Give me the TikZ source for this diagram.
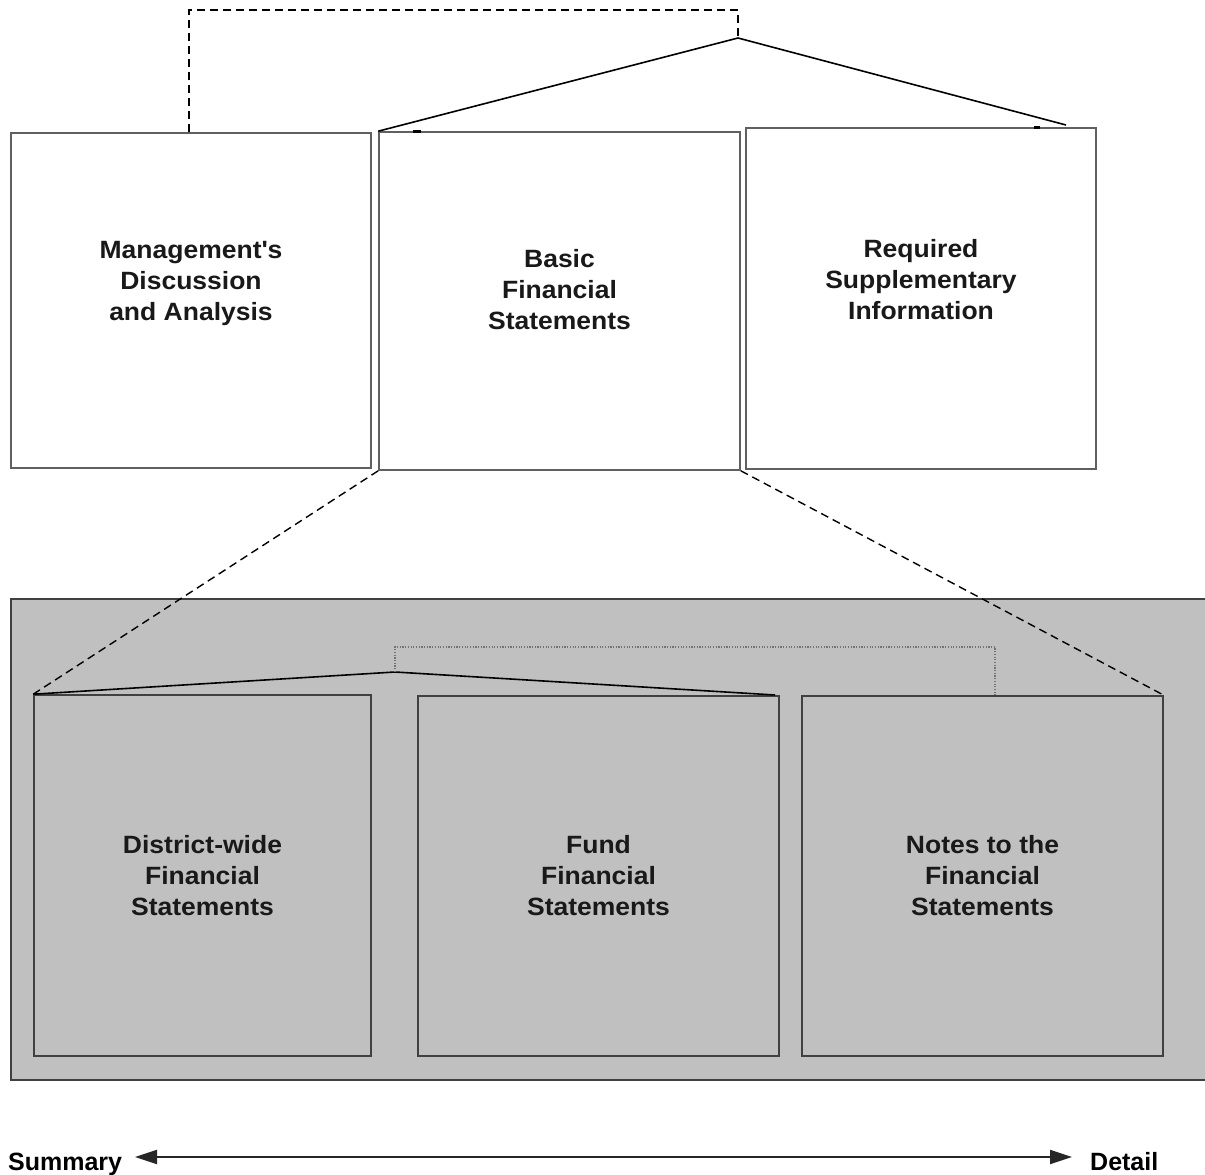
\documentclass[tikz,border=0pt]{standalone}
\usepackage{fontspec}
\setmainfont{Liberation Sans}
\newfontfamily\boxfont[FakeStretch=1.06]{Liberation Sans}
\usetikzlibrary{arrows.meta}
\definecolor{panelgray}{HTML}{C0C0C0}
\definecolor{topedge}{HTML}{606060}
\definecolor{lowedge}{HTML}{404040}
\tikzset{
  topbox/.style={draw=topedge, line width=1.6pt, fill=white, inner sep=0pt},
  lowbox/.style={draw=lowedge, line width=1.6pt, fill=panelgray, inner sep=0pt},
  boxtext/.style={align=center, font=\boxfont\bfseries\fontsize{25}{31}\selectfont, text=black!90},
  endtext/.style={font=\bfseries\fontsize{25}{30}\selectfont, inner sep=0pt},
  dashlink/.style={black, line width=1.4pt, dash pattern=on 8pt off 5pt},
  solidlink/.style={black, line width=1.6pt},
  dotlink/.style={black!55, line width=1.2pt, dash pattern=on 1.2pt off 1.5pt},
  tick/.style={black, line width=3pt}
}
\begin{document}
\begin{tikzpicture}[x=1pt,y=-1pt]
\useasboundingbox (0,0) rectangle (1205,1175);
% panel
\fill[panelgray] (11,599) rectangle (1206,1080);
\draw[lowedge, line width=1.6pt] (1206,599) -- (11,599) -- (11,1080) -- (1206,1080);
% top boxes
\node[topbox, minimum width=360pt, minimum height=335pt] (mda) at (191,300.5) {};
\node[topbox, minimum width=361pt, minimum height=338pt] (bfs) at (559.5,301) {};
\node[topbox, minimum width=350pt, minimum height=341pt] (rsi) at (921,298.5) {};
\node[boxtext] (tmda) at (191,283) {Management\textquotesingle s\\Discussion\\and Analysis};
\node[boxtext] (tbfs) at (559.5,290) {Basic\\Financial\\Statements};
\node[boxtext] (trsi) at (921,280) {Required\\Supplementary\\Information};
% lower boxes
\node[lowbox, minimum width=337pt, minimum height=361pt] (dw) at (202.5,875.5) {};
\node[lowbox, minimum width=361pt, minimum height=360pt] (ff) at (598.5,876) {};
\node[lowbox, minimum width=361pt, minimum height=360pt] (nt) at (982.5,876) {};
\node[boxtext] (tdw) at (202.5,876) {District-wide\\Financial\\Statements};
\node[boxtext] (tff) at (598.5,876) {Fund\\Financial\\Statements};
\node[boxtext] (tnt) at (982.5,876) {Notes to the\\Financial\\Statements};
% coordinates
\coordinate (apex) at (738,38);
\coordinate (dashtopL) at (189,10);
\coordinate (dashtopR) at (738,10);
\coordinate (rsiend) at (1066,125);
\coordinate (lapex) at (395,672);
\coordinate (dotL) at (395,647);
\coordinate (dotR) at (995,647);
\coordinate (ffend) at (775,695);
% top connectors
\draw[dashlink] (mda.north -| dashtopL) -- (dashtopL) -- (dashtopR) -- (apex);
\draw[solidlink] (bfs.north west) -- (apex) -- (rsiend);
\draw[tick] (413,131) -- (421,131);
\draw[tick] (1034,127) -- (1040,127);
% expansion lines
\draw[dashlink] (bfs.south west) -- (dw.north west);
\draw[dashlink] (bfs.south east) -- (nt.north east);
% lower connectors
\draw[solidlink] (dw.north west) -- (lapex) -- (ffend);
\draw[dotlink] (lapex) -- (dotL) -- (dotR) -- (dotR |- nt.north);
% bottom axis
\node[endtext, anchor=base west] (sum) at (8,1170) {Summary};
\node[endtext, anchor=base west] (det) at (1090,1170) {Detail};
\coordinate (axisL) at (135,1157);
\coordinate (axisR) at (1072,1157);
\draw[line width=2.2pt, black!85, {Triangle[length=22pt,width=14pt]}-{Triangle[length=22pt,width=14pt]}] (axisL) -- (axisR);
\end{tikzpicture}
\end{document}
